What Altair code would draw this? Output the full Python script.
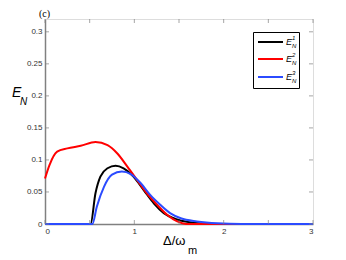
import altair as alt
import pandas as pd

# ---- data ----
red_x = [0, 0.05, 0.136, 0.25, 0.40, 0.565, 0.70, 0.81, 0.92, 1.03, 1.14, 1.255, 1.37, 1.48, 1.58, 1.7, 2.0, 2.5, 3.0]
red_y = [0.071, 0.092, 0.113, 0.118, 0.122, 0.128, 0.123, 0.110, 0.090, 0.069, 0.048, 0.030, 0.014, 0.004, 0.0, 0.0, 0.0, 0.0, 0.0]

black_x = [0, 0.51, 0.565, 0.62, 0.70, 0.79, 0.88, 0.99, 1.105, 1.22, 1.33, 1.48, 1.66, 1.9, 2.2, 3.0]
black_y = [0, 0, 0.048, 0.074, 0.087, 0.091, 0.087, 0.074, 0.053, 0.032, 0.017, 0.007, 0.002, 0.0, 0.0, 0.0]

blue_x = [0, 0.53, 0.58, 0.66, 0.75, 0.86, 0.96, 1.07, 1.18, 1.29, 1.40, 1.52, 1.70, 1.93, 2.2, 3.0]
blue_y = [0, 0, 0.027, 0.058, 0.077, 0.082, 0.078, 0.064, 0.045, 0.030, 0.017, 0.009, 0.004, 0.001, 0.0, 0.0]

series_names = ["E1", "E2", "E3"]
series_colors = ["#000000", "#ff0000", "#2b4bff"]
legend_sup = ["1", "2", "3"]

x_ticks = [0, 0.5, 1, 1.5, 2, 2.5, 3]
x_labels = [0, 1, 2, 3]
y_ticks = [0, 0.05, 0.1, 0.15, 0.2, 0.25, 0.3]

W, H = 268, 205
XMAX, YMAX = 3, 0.32
AXC = "#808080"

rows = []
for name, xs_, ys_ in [("E1", black_x, black_y), ("E2", red_x, red_y), ("E3", blue_x, blue_y)]:
    for a, b in zip(xs_, ys_):
        rows.append({"x": a, "y": b, "s": name})
df = pd.DataFrame(rows)

xs = alt.Scale(domain=[0, XMAX], nice=False, zero=False)
ys = alt.Scale(domain=[0, YMAX], nice=False)

XAX = alt.Axis(values=x_labels, format="~g", title=None, tickSize=0, labelPadding=3,
               domainColor=AXC, domainWidth=1.5, labelFontSize=8, labelOverlap=False,
               labelColor="#333333", labelFont="Liberation Sans", grid=False)
YAX = alt.Axis(values=y_ticks, format="~g", title=None, tickSize=0, labelPadding=3,
               domainColor=AXC, domainWidth=1.5, labelFontSize=8, labelOverlap=False,
               labelColor="#333333", labelFont="Liberation Sans", grid=False)

lines = alt.Chart(df).mark_line(strokeWidth=2, interpolate="monotone").encode(
    x=alt.X("x:Q", scale=xs, axis=XAX),
    y=alt.Y("y:Q", scale=ys, axis=YAX),
    color=alt.Color("s:N", scale=alt.Scale(domain=series_names, range=series_colors), legend=None),
    order=alt.Order("x:Q"),
)

xt = pd.DataFrame({"x": x_ticks})
yt = pd.DataFrame({"y": y_ticks})
tick_bottom = alt.Chart(xt).mark_tick(orient="vertical", size=4, thickness=1, color=AXC, yOffset=-2).encode(
    x=alt.X("x:Q", scale=xs, axis=XAX), y=alt.datum(0, scale=ys, axis=YAX))
tick_top = alt.Chart(xt).mark_tick(orient="vertical", size=4, thickness=1, color=AXC, yOffset=2).encode(
    x=alt.X("x:Q", scale=xs, axis=XAX), y=alt.datum(YMAX, scale=ys, axis=YAX))
tick_left = alt.Chart(yt).mark_tick(orient="horizontal", size=4, thickness=1, color=AXC, xOffset=2).encode(
    y=alt.Y("y:Q", scale=ys, axis=YAX), x=alt.datum(0, scale=xs, axis=XAX))
tick_right = alt.Chart(yt).mark_tick(orient="horizontal", size=4, thickness=1, color=AXC, xOffset=-2).encode(
    y=alt.Y("y:Q", scale=ys, axis=YAX), x=alt.datum(XMAX, scale=xs, axis=XAX))

# legend box
leg = pd.DataFrame({"s": series_names, "sup": legend_sup, "row": [23, 40, 58]})
box = alt.Chart(pd.DataFrame({"a": [0]})).mark_rect(fill="white", stroke="black", strokeWidth=1).encode(
    x=alt.value(208.5), x2=alt.value(254.5), y=alt.value(13.5), y2=alt.value(69.5))
leg_lines = alt.Chart(leg).mark_rule(strokeWidth=2).encode(
    x=alt.value(213), x2=alt.value(238), y=alt.Y("row:Q", scale=None),
    color=alt.Color("s:N", scale=alt.Scale(domain=series_names, range=series_colors), legend=None))
leg_E = alt.Chart(leg).mark_text(text="E", fontSize=9, fontStyle="italic", font="Liberation Sans",
                                  align="left", baseline="middle").encode(
    x=alt.value(241), y=alt.Y("row:Q", scale=None))
leg_sup = alt.Chart(leg).mark_text(fontSize=6, fontStyle="italic", font="Liberation Sans",
                                    align="left", baseline="middle", dy=-4).encode(
    x=alt.value(247), y=alt.Y("row:Q", scale=None), text="sup:N")
leg_sub = alt.Chart(leg).mark_text(text="N", fontSize=6, fontStyle="italic", font="Liberation Sans",
                                    align="left", baseline="middle", dy=4).encode(
    x=alt.value(247), y=alt.Y("row:Q", scale=None))

one = pd.DataFrame({"a": [0]})
title_t = alt.Chart(one).mark_text(text="(c)", font="Liberation Serif", fontSize=10, fontWeight="normal",
                                   align="left", baseline="alphabetic").encode(x=alt.value(-6), y=alt.value(-2))
xl1 = alt.Chart(one).mark_text(text="Δ/ω", font="Liberation Sans", fontSize=13, align="left",
                               baseline="alphabetic").encode(x=alt.value(118), y=alt.value(226))
xl2 = alt.Chart(one).mark_text(text="m", font="Liberation Sans", fontSize=11, align="left",
                               baseline="alphabetic").encode(x=alt.value(143), y=alt.value(235))
yl1 = alt.Chart(one).mark_text(text="E", font="Liberation Sans", fontSize=14, fontStyle="italic", align="left",
                               baseline="alphabetic").encode(x=alt.value(-33), y=alt.value(78))
yl2 = alt.Chart(one).mark_text(text="N", font="Liberation Sans", fontSize=10, fontStyle="italic", align="left",
                               baseline="alphabetic").encode(x=alt.value(-25), y=alt.value(86))

chart = alt.layer(
    lines, tick_bottom, tick_top, tick_left, tick_right,
    box, leg_lines, leg_E, leg_sup, leg_sub,
    title_t, xl1, xl2, yl1, yl2,
).properties(
    width=W, height=H,
    autosize=alt.AutoSizeParams(type="none"),
    padding={"left": 37, "top": 11, "right": 10, "bottom": 34},
).configure_view(stroke=AXC, strokeWidth=1.5).configure(background="white")

chart.save("out.html", embed_options={"renderer": "svg", "actions": False})
